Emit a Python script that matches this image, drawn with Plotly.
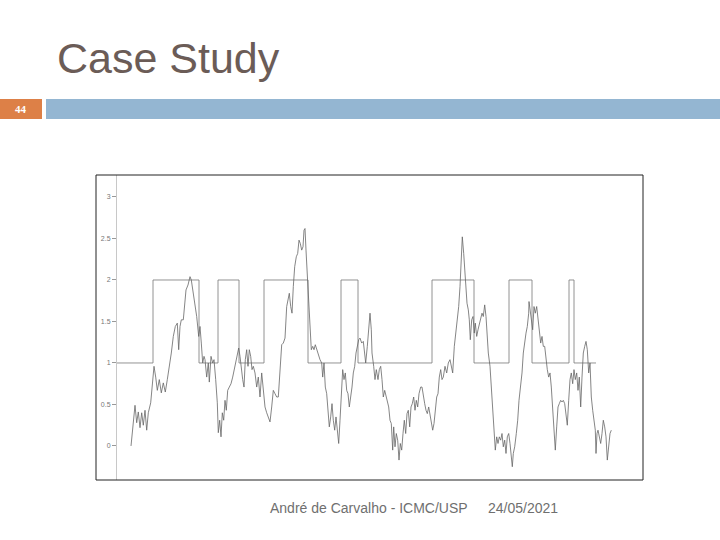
import plotly.graph_objects as go

# ---- data ----
# time axis in sample units; signal values
sig_t = [14, 16.3, 18, 19.7, 21.3, 23, 24.7, 26.3, 28, 29.7, 31.3, 33.7, 35.3, 37, 38.7, 40.3, 42.3, 44.3,
         46.3, 48.3, 50.3, 52.3, 54.3, 56.3, 58.3, 60.3, 61.7, 63, 64.3, 66.3, 67.7, 69, 71, 73, 74.3, 75.7,
         77.7, 79.7, 81.7, 83, 84.3, 85.7, 87, 88, 89.7, 91.3, 92.3, 94, 95.7, 97, 98.7, 100.3, 101.3, 102.7,
         104, 105.3, 106.7, 108, 109.3, 110.7, 112.3, 114, 115.7, 117.7, 119.7, 121.7, 123, 124.3, 125.7, 127,
         128.3, 129.7, 131, 132.3, 133.7, 135, 136.3, 138, 139.7, 141.3, 143, 144.7, 146.3, 148, 149.7, 151.3,
         153, 154.7, 156.3, 158, 159.7, 161.3, 163, 164.7, 166.3, 168, 169.7, 171, 172.3, 173.7, 175, 176.3,
         177.7, 179.3, 180.7, 182, 183.3, 184.7, 186, 187, 188, 189, 190.3, 191.7, 193, 194.3, 195.7, 197, 198.3,
         199.7, 201.3, 203, 204.7, 205.7, 207, 208.3, 209.7, 211, 212.3, 213.7, 215, 216.3, 217.7, 219, 220.3,
         221.7, 223, 224.3, 225.7, 227, 228.3, 229.7, 231, 232.3, 233.7, 235, 236.3, 237.7, 239, 240.3, 241.7,
         243, 244.7, 246.3, 247.7, 248.7, 250.3, 251.7, 253, 254.3, 255, 256.7, 258, 259.3, 261, 262.3, 263.7,
         265, 266.3, 267.7, 269, 270.3, 271.7, 273, 274.3, 275.7, 276.7, 278, 279.3, 280.7, 282, 283.3, 284.7,
         286, 287.3, 288.7, 290, 291.3, 292.7, 294, 295.3, 296.7, 298, 299.3, 300.7, 302, 303.7, 305, 306.3,
         307.7, 309, 310.3, 311.7, 313, 314.3, 315.7, 317, 318.3, 319.7, 321, 322.3, 323.7, 325, 326.3, 328,
         329.7, 331.3, 333, 334.3, 335.7, 337.3, 339, 340.3, 341.7, 343, 344, 345.3, 346.7, 348, 349, 350,
         351.3, 352.3, 353.3, 354.7, 356, 357.3, 358.3, 359.7, 361, 362.3, 363.7, 365, 366.3, 367.7, 369,
         370.3, 371.3, 373, 374.3, 375.7, 377, 378.3, 379.7, 381, 382.3, 383.7, 385, 386.3, 387.7, 389, 390.3,
         391.7, 393, 394.3, 395.3, 396.3, 397.7, 399.3, 400.7, 402, 403.7, 405, 406.3, 407.7, 409, 410.3,
         411.7, 412, 413, 414.3, 415.7, 417, 418.3, 419.7, 421, 422.3, 423.7, 425, 426.3, 427.7, 429, 430.3,
         431.7, 433, 434.3, 435.7, 437, 438.3, 439.7, 441, 442.3, 443.7, 445, 446.3, 447.7, 449, 450.3, 451.7,
         453, 454.3, 455.7, 457, 458.3, 459.7, 461, 462.3, 463.7, 465, 466.3, 467.7, 469, 470.3, 471.7, 473,
         474.3, 475.7, 477, 478.3, 479, 480, 481, 482.3, 483.7, 485, 486.3, 487.7, 489, 490.3, 491.7, 493, 494.3,
         495]
sig_v = [0.0, 0.31, 0.49, 0.28, 0.41, 0.22, 0.40, 0.25, 0.43, 0.19, 0.40, 0.52, 0.76, 0.96, 0.83, 0.67, 0.80, 0.64,
         0.76, 0.65, 0.80, 0.94, 1.12, 1.32, 1.44, 1.48, 1.16, 1.44, 1.52, 1.52, 1.72, 1.88, 1.94, 2.04, 2.00, 1.88,
         1.72, 1.56, 1.32, 1.44, 1.24, 1.00, 1.08, 1.04, 0.83, 1.00, 0.77, 1.08, 1.00, 1.04, 0.80, 0.52, 0.16, 0.31,
         0.11, 0.40, 0.31, 0.55, 0.43, 0.67, 0.71, 0.75, 0.83, 0.96, 1.08, 1.18, 1.08, 0.92, 0.80, 0.71,
         1.04, 1.16, 0.96, 1.16, 1.08, 0.92, 0.96, 0.88, 0.71, 0.83, 0.59, 0.88, 0.64, 0.47, 0.40, 0.35,
         0.29, 0.47, 0.67, 0.63, 0.59, 0.59, 0.96, 1.22, 1.24, 1.30, 1.68, 1.76, 1.84, 1.68, 1.60, 1.92,
         2.16, 2.28, 2.32, 2.48, 2.44, 2.36, 2.40, 2.60, 2.62, 2.36, 2.04, 1.72, 1.36, 1.16, 1.20, 1.16, 1.22,
         1.16, 1.12, 1.04, 1.00, 0.83, 1.00, 0.71, 0.63, 0.47, 0.23, 0.35, 0.51, 0.31, 0.19, 0.35, 0.15,
         0.03, 0.31, 0.67, 0.92, 0.80, 0.88, 0.67, 0.63, 0.47, 0.59, 0.71, 0.88, 0.96, 1.12, 1.20, 1.28,
         1.30, 1.24, 1.26, 1.08, 1.00, 1.20, 1.40, 1.60, 1.40, 1.12, 0.96, 0.80, 0.92, 0.80, 0.92, 0.96,
         0.80, 0.59, 0.67, 0.59, 0.55, 0.47, 0.31, 0.27, -0.05, 0.23, -0.01, 0.15, 0.07, -0.17, 0.03, -0.05,
         0.15, 0.31, 0.15, 0.39, 0.43, 0.23, 0.47, 0.51, 0.59, 0.43, 0.55, 0.47, 0.63, 0.71, 0.71, 0.59,
         0.51, 0.43, 0.39, 0.47, 0.39, 0.31, 0.19, 0.27, 0.43, 0.59, 0.63, 0.83, 0.92, 0.80, 0.83, 0.96,
         0.88, 1.00, 1.04, 0.96, 0.88, 1.20, 1.36, 1.52, 1.68, 1.92, 2.20, 2.52, 2.32, 2.04, 1.92, 1.72,
         1.64, 1.52, 1.28, 1.52, 1.56, 1.36, 1.48, 1.32, 1.40, 1.48, 1.56, 1.60, 1.56, 1.70, 1.56, 1.28,
         1.12, 0.96, 0.71, 0.47, 0.15, -0.05, 0.11, 0.03, 0.11, 0.07, 0.15, -0.01, 0.07, -0.09, 0.11, 0.15,
         0.03, -0.13, -0.25, -0.09, -0.01, 0.15, 0.31, 0.55, 0.71, 0.88, 1.12, 1.28, 1.36, 1.44, 1.60, 1.74,
         1.64, 1.52, 1.40, 1.68, 1.60, 1.68, 1.52, 1.32, 1.24, 1.32, 1.20, 1.20, 1.04, 0.92, 0.83, 0.88,
         0.71, 0.47, 0.23, -0.05, 0.23, 0.47, 0.51, 0.55, 0.53, 0.55, 0.51, 0.39, 0.25, 0.55, 0.80, 0.88,
         0.75, 0.92, 0.80, 0.88, 0.67, 0.83, 0.47, 0.83, 1.12, 1.20, 1.26, 1.16, 0.88, 1.00, 0.59, 0.43,
         0.31, 0.19, -0.09, 0.15, 0.19, 0.11, 0.03, 0.15, 0.31, 0.23, 0.11, -0.17, -0.01, 0.15, 0.19]

# square-wave reference (step changes)
sq_t = [0, 36, 82, 101, 122, 147, 191, 224, 241, 315, 357, 392, 415, 452, 457, 479]
sq_v = [1, 2, 1, 2, 1, 2, 1, 2, 1, 2, 1, 2, 1, 2, 1, 1]

y_ticks = [0, 0.5, 1, 1.5, 2, 2.5, 3]
y_labels = ["0", "0.5", "1", "1.5", "2", "2.5", "3"]

title = "Case Study"
slide_no = "44"
footer_author = "André de Carvalho - ICMC/USP"
footer_date = "24/05/2021"

n = min(len(sig_t), len(sig_v))
sig_t, sig_v = sig_t[:n], sig_v[:n]

W, H = 720, 540


def px(x):
    return x / W


def py(y):
    return 1 - y / H


fig = go.Figure()
fig.add_trace(go.Scatter(x=sq_t, y=sq_v, mode="lines", line=dict(color="#777777", width=0.8, shape="hv"),
                         hoverinfo="skip", showlegend=False))
fig.add_trace(go.Scatter(x=sig_t, y=sig_v, mode="lines", line=dict(color="#666666", width=0.8),
                         hoverinfo="skip", showlegend=False))

fig.update_layout(
    width=W, height=H, margin=dict(l=0, r=0, t=0, b=0),
    paper_bgcolor="white", plot_bgcolor="white", showlegend=False,
    xaxis=dict(domain=[px(117), px(643)], range=[0, 526], visible=False, fixedrange=True),
    yaxis=dict(domain=[py(480), py(175)], range=[-0.41, 3.265], tickvals=y_ticks, ticktext=y_labels,
               ticks="outside", ticklen=4, tickcolor="#999999", tickwidth=1,
               showline=True, linecolor="#c8c8c8", linewidth=1, showgrid=False, zeroline=False,
               tickfont=dict(family="Liberation Sans", size=7, color="#777777"), fixedrange=True),
    shapes=[
        dict(type="rect", xref="paper", yref="paper", x0=px(96), x1=px(643), y0=py(480), y1=py(175),
             line=dict(color="#222222", width=1), fillcolor="rgba(0,0,0,0)", layer="above"),
        dict(type="rect", xref="paper", yref="paper", x0=px(0), x1=px(42), y0=py(119), y1=py(99),
             line=dict(width=0), fillcolor="#dd8047"),
        dict(type="rect", xref="paper", yref="paper", x0=px(46), x1=px(720), y0=py(119), y1=py(99),
             line=dict(width=0), fillcolor="#94b6d2"),
    ],
    annotations=[
        dict(text=title, xref="paper", yref="paper", x=px(55), y=py(58), xanchor="left", yanchor="middle",
             showarrow=False, font=dict(family="Liberation Sans", size=43, color="#6b5c57")),
        dict(text="<b>" + slide_no + "</b>", xref="paper", yref="paper", x=px(21), y=py(109),
             xanchor="center", yanchor="middle", showarrow=False,
             font=dict(family="Liberation Serif", size=11, color="white")),
        dict(text=footer_author, xref="paper", yref="paper", x=px(268), y=py(508), xanchor="left",
             yanchor="middle", showarrow=False, font=dict(family="Liberation Sans", size=14, color="#6f6f6f")),
        dict(text=footer_date, xref="paper", yref="paper", x=px(486), y=py(508), xanchor="left",
             yanchor="middle", showarrow=False, font=dict(family="Liberation Sans", size=14, color="#6f6f6f")),
    ],
)

fig.write_html("out.html", config={"displayModeBar": False},
               post_script="document.body.style.margin='0px';document.body.style.overflow='hidden';")
